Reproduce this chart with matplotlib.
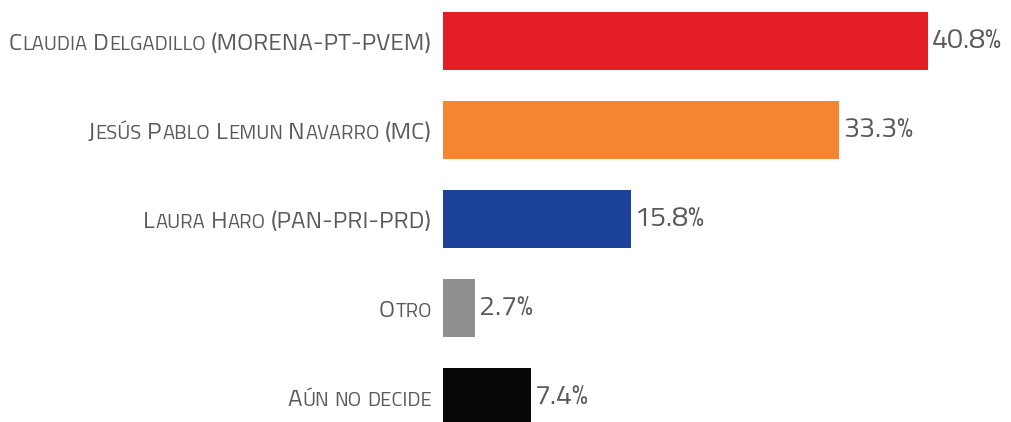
import matplotlib
matplotlib.use("Agg")
import matplotlib.pyplot as plt
from matplotlib.transforms import offset_copy

plt.rcParams['font.family'] = ['Titillium Web', 'Barlow', 'DejaVu Sans']

candidates = ["Claudia Delgadillo (MORENA-PT-PVEM)",
              "Jesús Pablo Lemun Navarro (MC)",
              "Laura Haro (PAN-PRI-PRD)",
              "Otro",
              "Aún no decide"]
values = [40.8, 33.3, 15.8, 2.7, 7.4]
colors = ['#e31c25', '#f58433', '#1c4199', '#8e8f91', '#070707']

text_color = '#5a5a5a'
big_fs = 17.6
small_fs = 14.6


def small_caps(s):
    # split a label into (text, fontsize) runs, lowercase -> small capitals
    runs = []
    for ch in s:
        if ch == ' ':
            runs.append((' ', None))
            continue
        fs = small_fs if ch.islower() else big_fs
        if runs and runs[-1][1] == fs:
            runs[-1] = (runs[-1][0] + ch.upper(), fs)
        else:
            runs.append((ch.upper(), fs))
    return runs


fig = plt.figure(figsize=(10.11, 4.22), dpi=100)
ax = fig.add_axes([443 / 1011, 0, 1 - 443 / 1011, 1])

ypos = list(range(len(candidates)))
ax.barh(ypos, values, height=0.66, color=colors)
ax.set_xlim(0, 47.8)
ax.set_ylim(4.281, -0.461)
ax.axis('off')

for i, v in enumerate(values):
    tr = offset_copy(ax.transData, fig=fig, x=4, y=-7, units='dots')
    ax.text(v, i, f"{v}%", transform=tr, fontsize=20.5, color=text_color,
            ha='left', va='baseline')

renderer = fig.canvas.get_renderer()
for i, lab in enumerate(candidates):
    x = -11
    for s, fs in reversed(small_caps(lab)):
        if fs is None:
            x -= 5
            continue
        tr = offset_copy(ax.get_yaxis_transform(), fig=fig, x=x, y=-9, units='dots')
        t = ax.text(0, i, s, transform=tr, fontsize=fs, color=text_color,
                    ha='right', va='baseline')
        x -= t.get_window_extent(renderer).width + 0.5

fig.savefig('out.png', dpi=100)
